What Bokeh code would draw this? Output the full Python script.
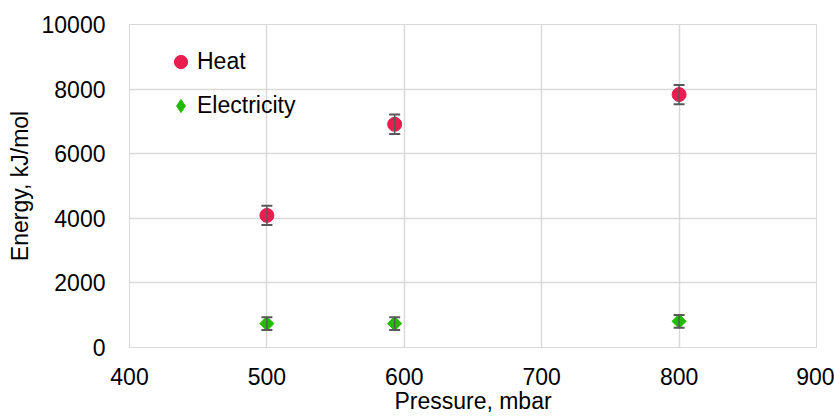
from bokeh.plotting import figure
from bokeh.models import ColumnDataSource, Whisker, TeeHead, Legend, LegendItem, FixedTicker
from bokeh.embed import file_html
from bokeh.resources import INLINE
import numpy as np

# Measured energy demand vs. pressure
pressure = [500, 593, 800]
heat = [4090, 6910, 7830]
heat_err = [300, 300, 300]
electricity = [740, 740, 810]
electricity_err = [200, 200, 200]

x_ticks = [400, 500, 600, 700, 800, 900]
y_ticks = [0, 2000, 4000, 6000, 8000, 10000]

FONT = "Liberation Sans"
FS = "23px"
GRID = "#d9d9d9"
HEAT_COLOR = "#ea1c50"
ELEC_COLOR = "#22bb00"
BAR_COLOR = "#595959"

p = figure(width=834, height=416, output_backend="svg", toolbar_location=None,
           x_range=(400, 900), y_range=(0, 10000),
           min_border_left=129, min_border_right=18, min_border_top=24, min_border_bottom=68)

p.outline_line_color = GRID
p.background_fill_color = "white"
p.border_fill_color = "white"

for ax in (p.xaxis[0], p.yaxis[0]):
    ax.axis_line_color = GRID
    ax.major_tick_line_color = None
    ax.minor_tick_line_color = None
    ax.major_label_text_font = FONT
    ax.major_label_text_font_size = FS
    ax.major_label_text_color = "black"
    ax.axis_label_text_font = FONT
    ax.axis_label_text_font_size = FS
    ax.axis_label_text_font_style = "normal"
    ax.axis_label_text_color = "black"

p.xaxis.ticker = FixedTicker(ticks=x_ticks)
p.yaxis.ticker = FixedTicker(ticks=y_ticks)
p.xaxis.axis_label = "Pressure, mbar"
p.yaxis.axis_label = "Energy, kJ/mol"
p.xaxis.major_label_standoff = 14
p.yaxis.major_label_standoff = 18
p.xaxis.axis_label_standoff = 0
p.yaxis.axis_label_standoff = 6

p.xgrid.ticker = FixedTicker(ticks=x_ticks)
p.ygrid.ticker = FixedTicker(ticks=y_ticks)
p.grid.grid_line_color = GRID
p.grid.grid_line_width = 1.5

heat_src = ColumnDataSource(dict(
    x=pressure, y=heat,
    lo=[v - e for v, e in zip(heat, heat_err)],
    hi=[v + e for v, e in zip(heat, heat_err)]))
elec_src = ColumnDataSource(dict(
    x=pressure, y=electricity,
    lo=[v - e for v, e in zip(electricity, electricity_err)],
    hi=[v + e for v, e in zip(electricity, electricity_err)]))

# Error bars
for src in (heat_src, elec_src):
    w = Whisker(base="x", lower="lo", upper="hi", source=src,
                line_color=BAR_COLOR, line_width=1.5, level="glyph",
                upper_head=TeeHead(size=11, line_color=BAR_COLOR, line_width=2),
                lower_head=TeeHead(size=11, line_color=BAR_COLOR, line_width=2))
    p.add_layout(w)

r_heat = p.scatter("x", "y", source=heat_src, marker="circle", size=14,
                   fill_color=HEAT_COLOR, line_color=HEAT_COLOR)
# narrow diamond underneath, used as the legend key (legend keys ignore marker angle)
r_elec_key = p.scatter("x", "y", source=elec_src, marker="diamond", size=12,
                       fill_color=ELEC_COLOR, line_color=ELEC_COLOR)
# square diamonds: squares turned by 45 degrees
r_elec = p.scatter("x", "y", source=elec_src, marker="square", size=10, angle=np.pi / 4,
                   fill_color=ELEC_COLOR, line_color=ELEC_COLOR)

legend = Legend(items=[LegendItem(label="Heat", renderers=[r_heat]),
                       LegendItem(label="Electricity", renderers=[r_elec_key])],
                location=(35, 225), orientation="vertical",
                glyph_width=33, glyph_height=33, label_height=20,
                label_standoff=0, spacing=11, padding=0, margin=0,
                border_line_color=None, background_fill_alpha=0,
                label_text_font=FONT, label_text_font_size=FS,
                label_text_color="black")
p.add_layout(legend, "center")

open("out.html", "w").write(file_html(p, INLINE))
